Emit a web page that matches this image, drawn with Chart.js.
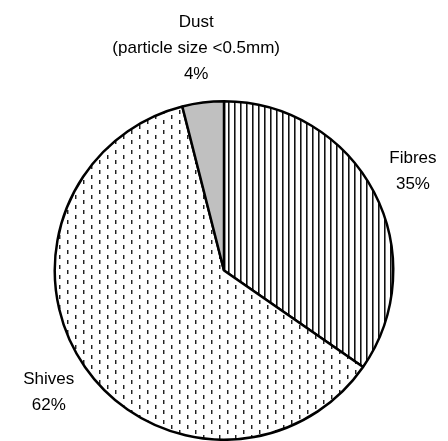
<!DOCTYPE html>
<html lang="en">
  <head>
    <meta charset="UTF-8" />
    <script src="https://cdn.jsdelivr.net/npm/chart.js"></script>
    <style>
      html, body { margin: 0; padding: 0; background: #fff; }
      #mainChart { width: 448px; height: 441px; }
    </style>
  </head>
  <body>
    <div id="mainChart">
      <canvas id="myChart"></canvas>
    </div>

    <script>
      const categories = ["Fibres", "Shives", "Dust"];
      const shares = [35, 62, 4];
      const labelLines = [
        ["Fibres", "35%"],
        ["Shives", "62%"],
        ["Dust", "(particle size <0.5mm)", "4%"],
      ];

      // vertical lines for fibres
      function stripePattern() {
        const c = document.createElement("canvas");
        c.width = 6;
        c.height = 6;
        const g = c.getContext("2d");
        g.fillStyle = "#fff";
        g.fillRect(0, 0, 6, 6);
        g.fillStyle = "#111";
        g.fillRect(0, 0, 1, 6);
        g.fillStyle = "#777";
        g.fillRect(1, 0, 1, 6);
        return g.createPattern(c, "repeat");
      }

      // short staggered dashes for shives
      function dashPattern() {
        const c = document.createElement("canvas");
        c.width = 16;
        c.height = 10;
        const g = c.getContext("2d");
        g.fillStyle = "#fff";
        g.fillRect(0, 0, 16, 10);
        g.fillStyle = "#222";
        g.fillRect(3, 0, 1, 4);
        g.fillRect(11, 5, 1, 4);
        g.fillStyle = "#999";
        g.fillRect(4, 0, 1, 4);
        g.fillRect(12, 5, 1, 4);
        return g.createPattern(c, "repeat");
      }

      const sliceLabels = {
        id: "sliceLabels",
        afterDatasetsDraw(chart) {
          const ctx = chart.ctx;
          const arcs = chart.getDatasetMeta(0).data;
          ctx.save();
          ctx.font = "17px 'Liberation Sans', Arial, sans-serif";
          ctx.fillStyle = "#000";
          ctx.textAlign = "center";
          ctx.textBaseline = "middle";
          arcs.forEach((arc, i) => {
            const mid = (arc.startAngle + arc.endAngle) / 2;
            const lines = labelLines[i];
            const r = arc.outerRadius + (lines.length > 2 ? 55 : 44);
            const x = arc.x + Math.cos(mid) * r;
            const y = arc.y + Math.sin(mid) * r;
            const lh = 26;
            lines.forEach((t, k) => {
              ctx.fillText(t, x, y + (k - (lines.length - 1) / 2) * lh);
            });
          });
          ctx.restore();
        },
      };

      const ctx = document.getElementById("myChart");
      const myChart = new Chart(ctx, {
        type: "pie",
        data: {
          labels: categories,
          datasets: [
            {
              data: shares,
              backgroundColor: [stripePattern(), dashPattern(), "#c0c0c0"],
              borderColor: "#000",
              borderWidth: 2.5,
            },
          ],
        },
        options: {
          responsive: true,
          maintainAspectRatio: false,
          animation: false,
          layout: { padding: { top: 100, left: 0, right: 0, bottom: 0 } },
          plugins: {
            legend: { display: false },
            tooltip: { enabled: false },
          },
        },
        plugins: [sliceLabels],
      });
    </script>
  </body>
</html>
